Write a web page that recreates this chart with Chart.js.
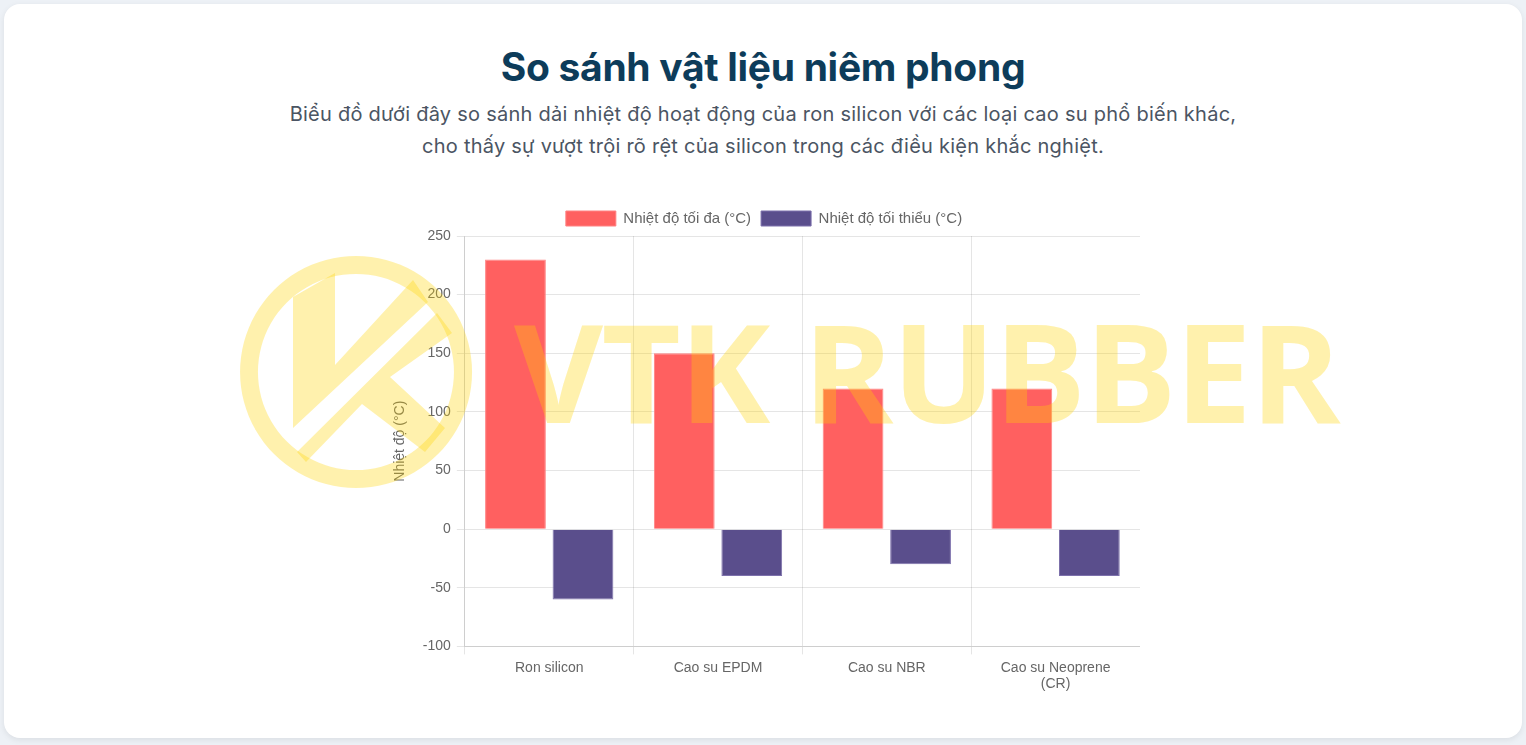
<!DOCTYPE html>
<html lang="vi">
<head>
<meta charset="utf-8">
<title>So sánh vật liệu niêm phong</title>
<script src="https://cdn.jsdelivr.net/npm/chart.js@4"></script>
<style>
  html, body { margin: 0; padding: 0; }
  body { width: 1526px; height: 745px; background: #edf1f6; position: relative; overflow: hidden; font-family: "Inter", "Noto Sans", sans-serif; }
  .card { position: absolute; left: 4px; top: 4px; width: 1518px; height: 734px; background: #fff; border-radius: 16px; box-shadow: 0 2px 6px rgba(0,0,0,0.08); }
  h2 { position: absolute; left: 0; right: 0; top: 39px; margin: 0; text-align: center; font-size: 39px; font-weight: 700; color: #0d3c5a; letter-spacing: -0.3px; }
  p.sub { position: absolute; left: 0; right: 0; top: 94px; margin: 0; text-align: center; font-size: 20px; line-height: 32px; color: #4b5563; letter-spacing: 0.25px; }
  .chart-box { position: absolute; left: 384px; top: 197px; width: 752px; height: 497px; }
  .wm { position: absolute; left: 0; top: 0; width: 1526px; height: 745px; pointer-events: none; }
  .wm-text { position: absolute; left: 514px; top: 290px; font-family: "Open Sans", sans-serif; font-weight: 700; font-size: 137px; line-height: 160px; color: rgba(255, 210, 0, 0.32); white-space: nowrap; letter-spacing: -1.5px; }
</style>
</head>
<body>
<div class="card">
  <h2>So sánh vật liệu niêm phong</h2>
  <p class="sub">Biểu đồ dưới đây so sánh dải nhiệt độ hoạt động của ron silicon với các loại cao su phổ biến khác,<br>cho thấy sự vượt trội rõ rệt của silicon trong các điều kiện khắc nghiệt.</p>
  <div class="chart-box"><canvas id="tempChart"></canvas></div>
</div>
<div class="wm">
  <svg width="1526" height="745" style="position:absolute;left:0;top:0">
    <g fill="rgba(255, 210, 0, 0.32)" stroke="none">
      <path fill-rule="evenodd" d="M356,256 a116,116 0 1,0 0.1,0 Z M356,274 a98,98 0 1,1 -0.1,0 Z"/>
      <polygon points="293,297 335,273 335,365 413,280 428,302 293,428"/>
      <polygon points="297,452 437,313 452,333 390,377 445,428 425,452 362,404 306,462"/>
    </g>
  </svg>
  <div class="wm-text">VTK RUBBER</div>
</div>
<script>
// Dữ liệu
const categories = ['Ron silicon', 'Cao su EPDM', 'Cao su NBR', ['Cao su Neoprene', '(CR)']];
const maxTemps = [230, 150, 120, 120];
const minTemps = [-60, -40, -30, -40];
const seriesNames = ['Nhiệt độ tối đa (°C)', 'Nhiệt độ tối thiểu (°C)'];
const yTitle = 'Nhiệt độ (°C)';

Chart.defaults.font.family = "'Helvetica Neue', Helvetica, Arial, 'Liberation Sans', sans-serif";
Chart.defaults.font.size = 15;
Chart.defaults.color = '#666';

const ctx = document.getElementById('tempChart').getContext('2d');
new Chart(ctx, {
    type: 'bar',
    data: {
        labels: categories,
        datasets: [{
            label: seriesNames[0],
            data: maxTemps,
            backgroundColor: 'rgba(255, 96, 96, 1)',
            borderColor: 'rgba(255, 130, 130, 1)',
            borderWidth: 1
        }, {
            label: seriesNames[1],
            data: minTemps,
            backgroundColor: 'rgba(90, 78, 140, 1)',
            borderColor: 'rgba(125, 113, 172, 1)',
            borderWidth: 1
        }]
    },
    options: {
        responsive: true,
        maintainAspectRatio: false,
        animation: false,
        plugins: {
            legend: {
                position: 'top',
                labels: { boxWidth: 50, boxHeight: 15 }
            },
            tooltip: { enabled: false }
        },
        scales: {
            x: {
                ticks: { maxRotation: 0, autoSkip: false, font: { size: 14 }, padding: 5 }
            },
            y: {
                min: -100,
                max: 250,
                ticks: { stepSize: 50, font: { size: 14 }, padding: 6 },
                title: { display: true, text: yTitle, font: { size: 14 }, padding: { top: 4, bottom: 8 } }
            }
        }
    }
});
</script>
</body>
</html>
